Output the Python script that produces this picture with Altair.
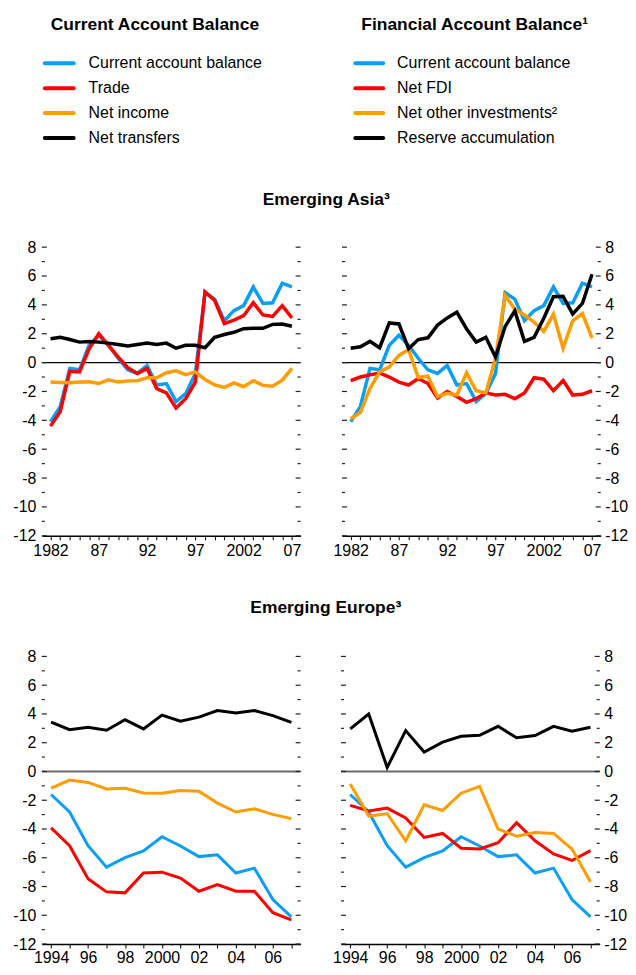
import altair as alt
import pandas as pd

FONT = "Liberation Sans, Arial, sans-serif"

BLUE = "#0A9EF5"
RED = "#FF0000"
ORANGE = "#FF9C00"
BLACK = "#000000"

# ---------------- data ----------------
ca_labels = ["Current account balance", "Trade", "Net income", "Net transfers"]
fa_labels = ["Current account balance", "Net FDI", "Net other investments²", "Reserve accumulation"]
series_colors = [BLUE, RED, ORANGE, BLACK]

asia_years = list(range(1982, 2008))
asia_cab = [-4.1, -3.05, -0.4, -0.5, 1.2, 1.9, 1.2, 0.3, -0.5, -0.75, -0.2, -1.55, -1.45,
            -2.7, -2.15, -0.75, 4.85, 4.4, 2.9, 3.6, 3.95, 5.25, 4.1, 4.15, 5.5, 5.25]
asia_trade = [-4.4, -3.4, -0.6, -0.65, 0.95, 2.0, 1.2, 0.4, -0.35, -0.75, -0.4, -1.8, -2.1,
              -3.15, -2.5, -1.35, 4.9, 4.3, 2.7, 2.95, 3.25, 4.15, 3.3, 3.2, 3.95, 3.1]
asia_income = [-1.35, -1.38, -1.4, -1.35, -1.33, -1.45, -1.2, -1.35, -1.28, -1.25, -1.05, -1.05,
               -0.7, -0.57, -0.83, -0.64, -1.17, -1.55, -1.72, -1.4, -1.67, -1.25, -1.58, -1.63,
               -1.22, -0.4]
asia_transfers = [1.65, 1.75, 1.6, 1.42, 1.47, 1.42, 1.35, 1.25, 1.15, 1.25, 1.35, 1.25, 1.35,
                  1.0, 1.2, 1.2, 1.03, 1.75, 1.95, 2.1, 2.35, 2.38, 2.38, 2.65, 2.68, 2.52]
asia_fdi = [-1.25, -1.0, -0.85, -0.72, -1.0, -1.35, -1.55, -1.1, -1.45, -2.45, -2.0, -2.35,
            -2.75, -2.5, -2.1, -2.25, -2.2, -2.5, -2.1, -1.05, -1.15, -1.95, -1.25, -2.25,
            -2.2, -1.95]
asia_other = [-3.9, -3.46, -1.79, -0.64, -0.3, 0.5, 0.9, -1.03, -0.94, -2.36, -2.13, -2.25,
              -0.71, -1.95, -2.1, 0.3, 4.65, 3.7, 3.3, 2.8, 2.16, 3.35, 1.0, 2.9, 3.4, 1.7]
asia_reserves = [1.0, 1.1, 1.47, 1.03, 2.75, 2.68, 0.96, 1.6, 1.72, 2.6, 3.1, 3.49, 2.34, 1.42,
                 1.75, 0.39, 2.5, 3.58, 1.47, 1.75, 3.07, 4.56, 4.59, 3.37, 4.1, 6.12]

eu_years = list(range(1994, 2008))
eu_cab = [-1.6, -2.82, -5.16, -6.65, -5.99, -5.53, -4.54, -5.18, -5.92, -5.8, -7.06, -6.72,
          -8.9, -10.11]
eu_trade = [-3.92, -5.16, -7.45, -8.37, -8.44, -7.06, -7.0, -7.41, -8.33, -7.87, -8.33, -8.33,
            -9.82, -10.32]
eu_income = [-1.15, -0.6, -0.76, -1.22, -1.17, -1.49, -1.51, -1.33, -1.38, -2.2, -2.82, -2.59,
             -2.98, -3.28]
eu_transfers = [3.44, 2.91, 3.07, 2.87, 3.6, 2.96, 3.92, 3.49, 3.78, 4.24, 4.06, 4.24, 3.88, 3.42]
eu_fdi = [-2.36, -2.75, -2.55, -3.23, -4.59, -4.31, -5.34, -5.39, -4.95, -3.56, -4.82, -5.73,
          -6.19, -5.5]
eu_other = [-0.87, -3.1, -2.94, -4.82, -2.32, -2.71, -1.51, -1.03, -4.01, -4.5, -4.24, -4.31,
            -5.39, -7.68]
eu_reserves = [2.96, 3.99, 0.28, 2.84, 1.35, 2.04, 2.45, 2.52, 3.14, 2.34, 2.5, 3.14, 2.8, 3.07]

y_major = list(range(-12, 9, 2))
y_minor = list(range(-11, 8, 2))
asia_xlabels = {1982: "1982", 1987: "87", 1992: "92", 1997: "97", 2002: "2002", 2007: "07"}
eu_xlabels = {1994: "1994", 1996: "96", 1998: "98", 2000: "2000", 2002: "02", 2004: "04", 2006: "06"}

PW = 260
TICK_FS = 16
LEG_FS = 16
TITLE_FS = 17.5


def label_expr(mapping):
    expr = "''"
    for k in sorted(mapping, reverse=True):
        expr = f"datum.value == {k} ? '{mapping[k]}' : ({expr})"
    return expr


def panel(years, values, labels, xdomain, xlabels, right, lw, zero_color, zero_width, lpad, ph):
    xscale = alt.Scale(domain=xdomain, nice=False, zero=False)
    yscale = alt.Scale(domain=[-12, 8], nice=False, zero=False)
    xaxis = alt.Axis(values=years, labelExpr=label_expr(xlabels), title=None, grid=False,
                     tickSize=4, tickColor="black", tickWidth=1, domainColor="black",
                     domainWidth=1.5, labelPadding=lpad, labelFlush=False, labelOverlap=False,
                     labelFontSize=TICK_FS, labelFont=FONT, labelColor="black")
    yaxis = alt.Axis(values=y_major, orient="right" if right else "left", ticks=False,
                     domain=False, grid=False, title=None, labelExpr="'' + datum.value",
                     labelPadding=4 if right else 6, labelFontSize=TICK_FS, labelFont=FONT,
                     labelColor="black", labelOverlap=False, labelFlush=False)
    X = alt.X("year:Q", scale=xscale, axis=xaxis)

    layers = []
    zero_df = pd.DataFrame({"v": [0]})
    layers.append(alt.Chart(zero_df).mark_rule(color=zero_color, strokeWidth=zero_width)
                  .encode(y=alt.Y("v:Q", scale=yscale, axis=yaxis)))
    for ticks, ln in ((y_major, 5), (y_minor, 3)):
        tdf = pd.DataFrame({"v": ticks})
        Y = alt.Y("v:Q", scale=yscale, axis=yaxis)
        layers.append(alt.Chart(tdf).mark_rule(color="#222", strokeWidth=1.2)
                      .encode(y=Y, x=alt.value(0), x2=alt.value(ln)))
        layers.append(alt.Chart(tdf).mark_rule(color="#222", strokeWidth=1.2)
                      .encode(y=Y, x=alt.value(PW - ln), x2=alt.value(PW)))
    for lab, col, vals in zip(labels, series_colors, values):
        df = pd.DataFrame({"year": years, "value": vals})
        layers.append(alt.Chart(df).mark_line(color=col, strokeWidth=lw)
                      .encode(x=X, y=alt.Y("value:Q", scale=yscale, axis=yaxis)))
    return alt.layer(*layers).properties(width=PW, height=ph)


def legend(labels, title, width, x0, x1, tx, title_dx):
    df = pd.DataFrame({"label": labels, "color": series_colors})
    Y = alt.Y("label:N", sort=labels, axis=None, scale=alt.Scale(type="point", padding=0.5))
    rules = alt.Chart(df).mark_rule(strokeWidth=4, strokeCap="round").encode(
        y=Y, x=alt.value(x0), x2=alt.value(x1), color=alt.Color("color:N", scale=None))
    texts = alt.Chart(df).mark_text(align="left", baseline="middle", fontSize=LEG_FS, font=FONT,
                                    color="black").encode(y=Y, x=alt.value(tx), text="label:N")
    return alt.layer(rules, texts).properties(
        width=width, height=100,
        title=alt.TitleParams(title, anchor="start", dx=title_dx, fontSize=TITLE_FS, font=FONT,
                              fontWeight="bold", offset=17.75, color="black"))


legL = legend(ca_labels, "Current Account Balance", 260, 3, 32, 47, 9)
legR = legend(fa_labels, "Financial Account Balance¹", 290, 35, 63, 77, 41)
header = alt.hconcat(legL, legR, spacing=20)

asia_xd = [1981.1, 2007.9]
eu_xd = [1993.5, 2007.5]

tl = panel(asia_years, [asia_cab, asia_trade, asia_income, asia_transfers], ca_labels,
           asia_xd, asia_xlabels, False, 3.5, "black", 1.2, 3, 290)
tr = panel(asia_years, [asia_cab, asia_fdi, asia_other, asia_reserves], fa_labels,
           asia_xd, asia_xlabels, True, 3.5, "black", 1.2, 3, 290)
bl = panel(eu_years, [eu_cab, eu_trade, eu_income, eu_transfers], ca_labels,
           eu_xd, eu_xlabels, False, 3, "#6a6a6a", 2, 1.5, 289)
br = panel(eu_years, [eu_cab, eu_fdi, eu_other, eu_reserves], fa_labels,
           eu_xd, eu_xlabels, True, 3, "#6a6a6a", 2, 1.5, 289)


def row_title(t, off):
    return alt.TitleParams(t, anchor="middle", dx=6, fontSize=TITLE_FS, font=FONT,
                           fontWeight="bold", offset=off, color="black")


row1 = alt.hconcat(tl, tr, spacing=30.6).properties(title=row_title("Emerging Asia³", 31.25))
row2 = alt.hconcat(bl, br, spacing=30.6).properties(title=row_title("Emerging Europe³", 32))

chart = (
    alt.vconcat(header, row1, row2, spacing=40.25)
    .properties(padding={"left": 4, "top": 4.75, "right": 0, "bottom": 0})
    .configure_view(stroke=None)
)

chart.save("out.html", embed_options={"renderer": "svg", "actions": False})
